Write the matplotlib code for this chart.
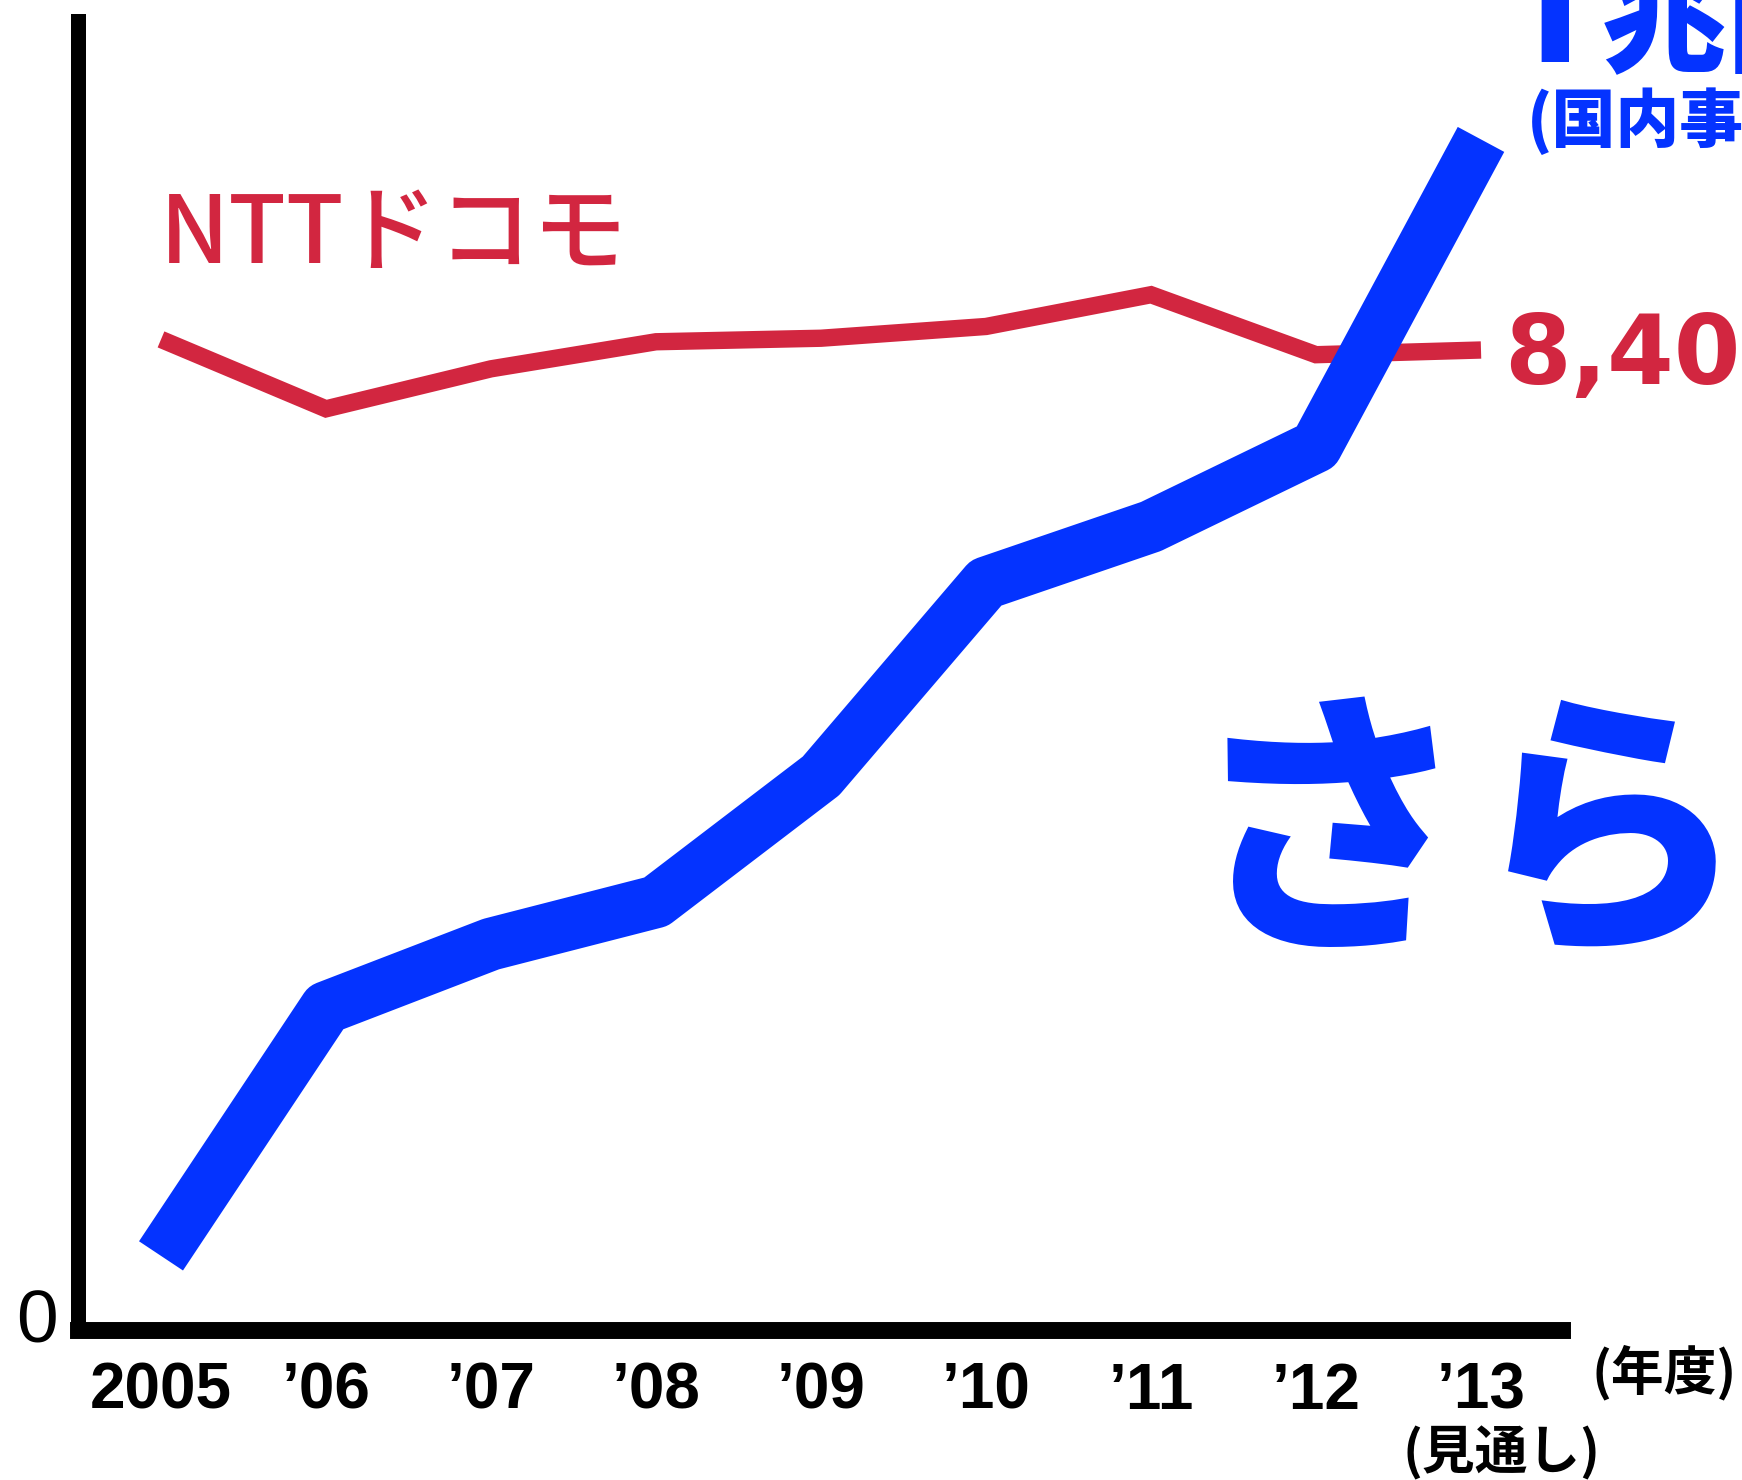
import matplotlib.pyplot as plt

# 営業利益 (億円)
years = ['2005', '’06', '’07', '’08', '’09', '’10', '’11', '’12', '’13']
softbank = [630, 2740, 3280, 3640, 4710, 6350, 6830, 7510, 10120]
docomo = [8420, 7830, 8170, 8400, 8430, 8530, 8800, 8290, 8330]

BLUE = '#0433FF'
RED = '#D22640'
W, H = 1742, 1480
JP = ['Noto Sans CJK JP', 'DejaVu Sans']


def px(x, y):
    # pixel position (from top-left) -> figure fraction
    return x / W, 1 - y / H


fig = plt.figure(figsize=(W / 100, H / 100), dpi=100)

# axes box in pixels
left, right, top, bottom = 78, 1562, 21, 1330
ax = fig.add_axes([left / W, 1 - bottom / H, (right - left) / W, (bottom - top) / H])

x = list(range(len(years)))
ax.plot(x, docomo, color=RED, lw=12.5, solid_capstyle='butt', solid_joinstyle='miter', zorder=2)
ax.plot(x, softbank, color=BLUE, lw=38, solid_capstyle='butt', solid_joinstyle='round', zorder=3)

# year i sits at pixel 161 + 165*i
ax.set_xlim((left - 161) / 165, (right - 161) / 165)
ax.set_ylim(0, (bottom - top) * 8.5)

for s in ['top', 'right']:
    ax.spines[s].set_visible(False)
ax.spines['left'].set_linewidth(10.8)
ax.spines['bottom'].set_linewidth(12.2)
for s in ['left', 'bottom']:
    ax.spines[s].set_capstyle('projecting')
    ax.spines[s].set_color('black')

ax.set_yticks([])
ax.set_xticks(x)
ax.set_xticklabels(years, fontsize=46, fontweight='bold', family='Liberation Sans')
ax.tick_params(axis='x', length=0, pad=23)

fig.text(*px(36.5, 1323), '0', fontsize=54, family='Liberation Sans', ha='center', va='center')

fig.text(*px(160, 263), 'NTTドコモ', fontsize=68, color=RED, family=JP,
         fontweight='medium', ha='left', va='baseline')
ax.annotate('8,400億円', xy=(8, docomo[-1]), xytext=(23, -34), textcoords='offset pixels',
            fontsize=69, fontweight='bold', color=RED, family=['DejaVu Sans', 'Noto Sans CJK JP'],
            ha='left', va='baseline', annotation_clip=False)

# "1兆円" runs off the top edge; the "1" is set apart so only its stem shows
fig.text(*px(1500, 62), '1', fontsize=120, color=BLUE, family='Roboto',
         fontweight='black', ha='left', va='baseline')
fig.text(*px(1602, 62), '兆円', fontsize=90, color=BLUE, family=JP,
         fontweight='black', ha='left', va='baseline')
fig.text(*px(1527, 142), '(国内事業)', fontsize=46, color=BLUE, family=JP,
         fontweight='black', ha='left', va='baseline')
fig.text(*px(1190, 928), 'さらに', fontsize=201, color=BLUE, family=JP,
         fontweight='black', ha='left', va='baseline')

fig.text(*px(1501, 1453), '(見通し)', fontsize=38, family=JP, fontweight='bold',
         ha='center', va='center')
fig.text(*px(1664, 1373), '(年度)', fontsize=38, family=JP, fontweight='bold',
         ha='center', va='center')

fig.savefig('out.png', dpi=100)
